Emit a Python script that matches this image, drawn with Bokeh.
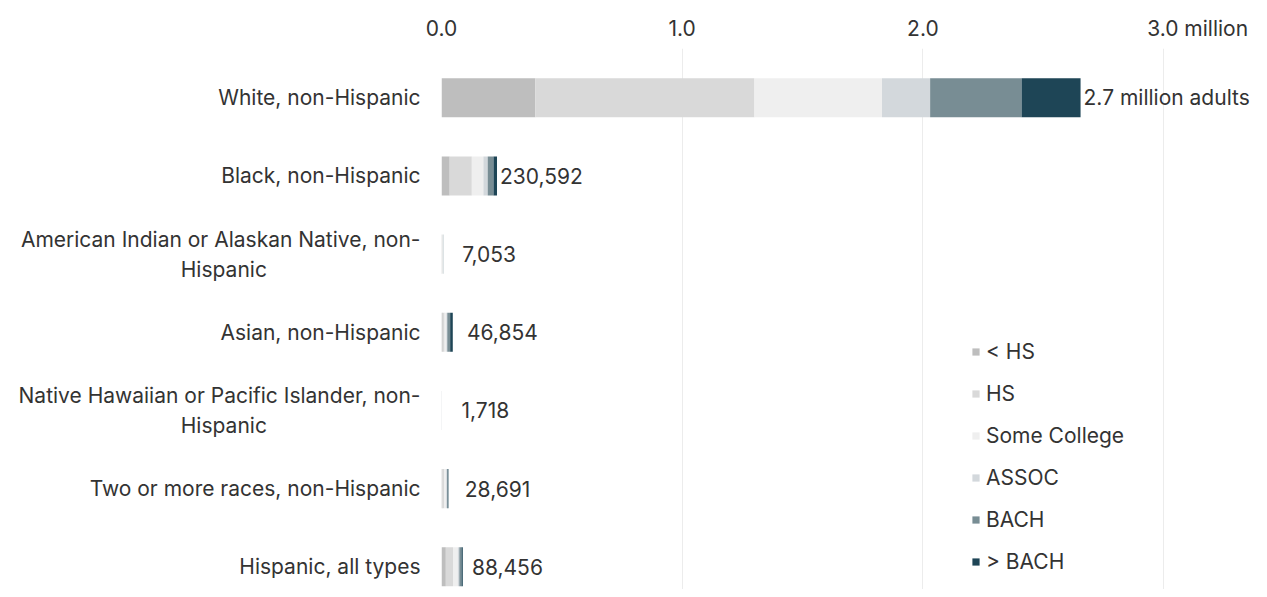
import numpy as np
from bokeh.plotting import figure
from bokeh.models import ColumnDataSource, Range1d, FixedTicker
from bokeh.core.properties import value
from bokeh.embed import file_html
from bokeh.resources import INLINE

FONT = "Inter"
FS = "21px"
FIG = "\u2007"
PAD2 = FIG * 11 + "\u2009"

groups = [
    "White, non-Hispanic",
    "Black, non-Hispanic",
    "American Indian or Alaskan Native, non-\nHispanic" + PAD2,
    "Asian, non-Hispanic",
    "Native Hawaiian or Pacific Islander, non-\nHispanic" + PAD2,
    "Two or more races, non-Hispanic",
    "Hispanic, all types",
]
levels = ["< HS", "HS", "Some College", "ASSOC", "BACH", "> BACH"]
colors = ["#bebebe", "#d9d9d9", "#efefef", "#d3d8dc", "#788d94", "#1e4556"]
x_ticks = [0, 1, 2, 3]
x_tick_labels = ["0.0", "1.0", "2.0", FIG * 5 + "3.0 million"]

# adults by education level (persons)
lt_hs   = [390000, 34000, 1200, 5000, 400, 4000, 18000]
hs      = [910000, 92000, 2500, 8000, 600, 8000, 30000]
some_c  = [530000, 48000, 1800, 7000, 400, 8000, 20000]
assoc   = [200000, 18000, 600, 4000, 100, 2500, 6000]
bach    = [380000, 24000, 600, 12000, 150, 3500, 9000]
gt_bach = [245000, 14592, 353, 10854, 68, 2691, 5456]

keys = ["lt_hs", "hs", "some_c", "assoc", "bach", "gt_bach"]
series = [lt_hs, hs, some_c, assoc, bach, gt_bach]

data = {"y": list(range(len(groups)))}
for k, s in zip(keys, series):
    data[k] = [v / 1e6 for v in s]
source = ColumnDataSource(data)

totals = np.sum(np.array(series), axis=0)
label_text = [f"{totals[0]/1e6:.1f} million adults"] + [f"{int(t):,}" for t in totals[1:]]
tot_m = totals / 1e6
label_x = np.where(tot_m < 0.2, 0.5 * tot_m + 0.07, tot_m)
lab_src = ColumnDataSource(dict(x=label_x, y=list(range(len(groups))), text=label_text))

p = figure(width=1263, height=589, output_backend="svg", toolbar_location=None,
           x_range=Range1d(0, 3.415), y_range=Range1d(6.29, -0.63),
           x_axis_location="above", min_border_left=441, min_border_right=0,
           min_border_top=48, min_border_bottom=0)
p.outline_line_color = None
p.background_fill_color = "white"

p.hbar_stack(keys, y="y", height=0.5, color=colors, line_color=None,
             source=source, legend_label=levels)

p.text(x="x", y="y", text="text", source=lab_src, x_offset=3,
       text_baseline="middle", text_align="left",
       text_font=value(FONT), text_font_size=FS, text_color="#333333")

# x axis
p.xaxis.ticker = FixedTicker(ticks=x_ticks)
p.xaxis.major_label_overrides = dict(zip(x_ticks, x_tick_labels))
p.xaxis.axis_line_color = None
p.xaxis.major_tick_line_color = None
p.xaxis.minor_tick_line_color = None
p.xaxis.major_label_standoff = 2
p.xaxis.major_label_text_font = FONT
p.xaxis.major_label_text_font_size = FS
p.xaxis.major_label_text_color = "#333333"

# y axis
p.yaxis.ticker = FixedTicker(ticks=list(range(len(groups))))
p.yaxis.major_label_overrides = {i: g for i, g in enumerate(groups)}
p.yaxis.axis_line_color = None
p.yaxis.major_tick_line_color = None
p.yaxis.minor_tick_line_color = None
p.yaxis.major_label_standoff = 15
p.yaxis.major_label_text_font = FONT
p.yaxis.major_label_text_font_size = FS
p.yaxis.major_label_text_color = "#333333"

p.ygrid.grid_line_color = None
p.xgrid.grid_line_color = "#ececec"
p.xgrid.ticker = FixedTicker(ticks=x_ticks)

lg = p.legend[0]
lg.location = (530, 15)
lg.border_line_color = None
lg.background_fill_alpha = 0
lg.padding = 0
lg.margin = 0
lg.glyph_width = 9
lg.glyph_height = 9
lg.label_standoff = 6
lg.spacing = 17
lg.label_text_font = FONT
lg.label_text_font_size = FS
lg.label_text_color = "#333333"

open("out.html", "w").write(file_html(p, INLINE))
